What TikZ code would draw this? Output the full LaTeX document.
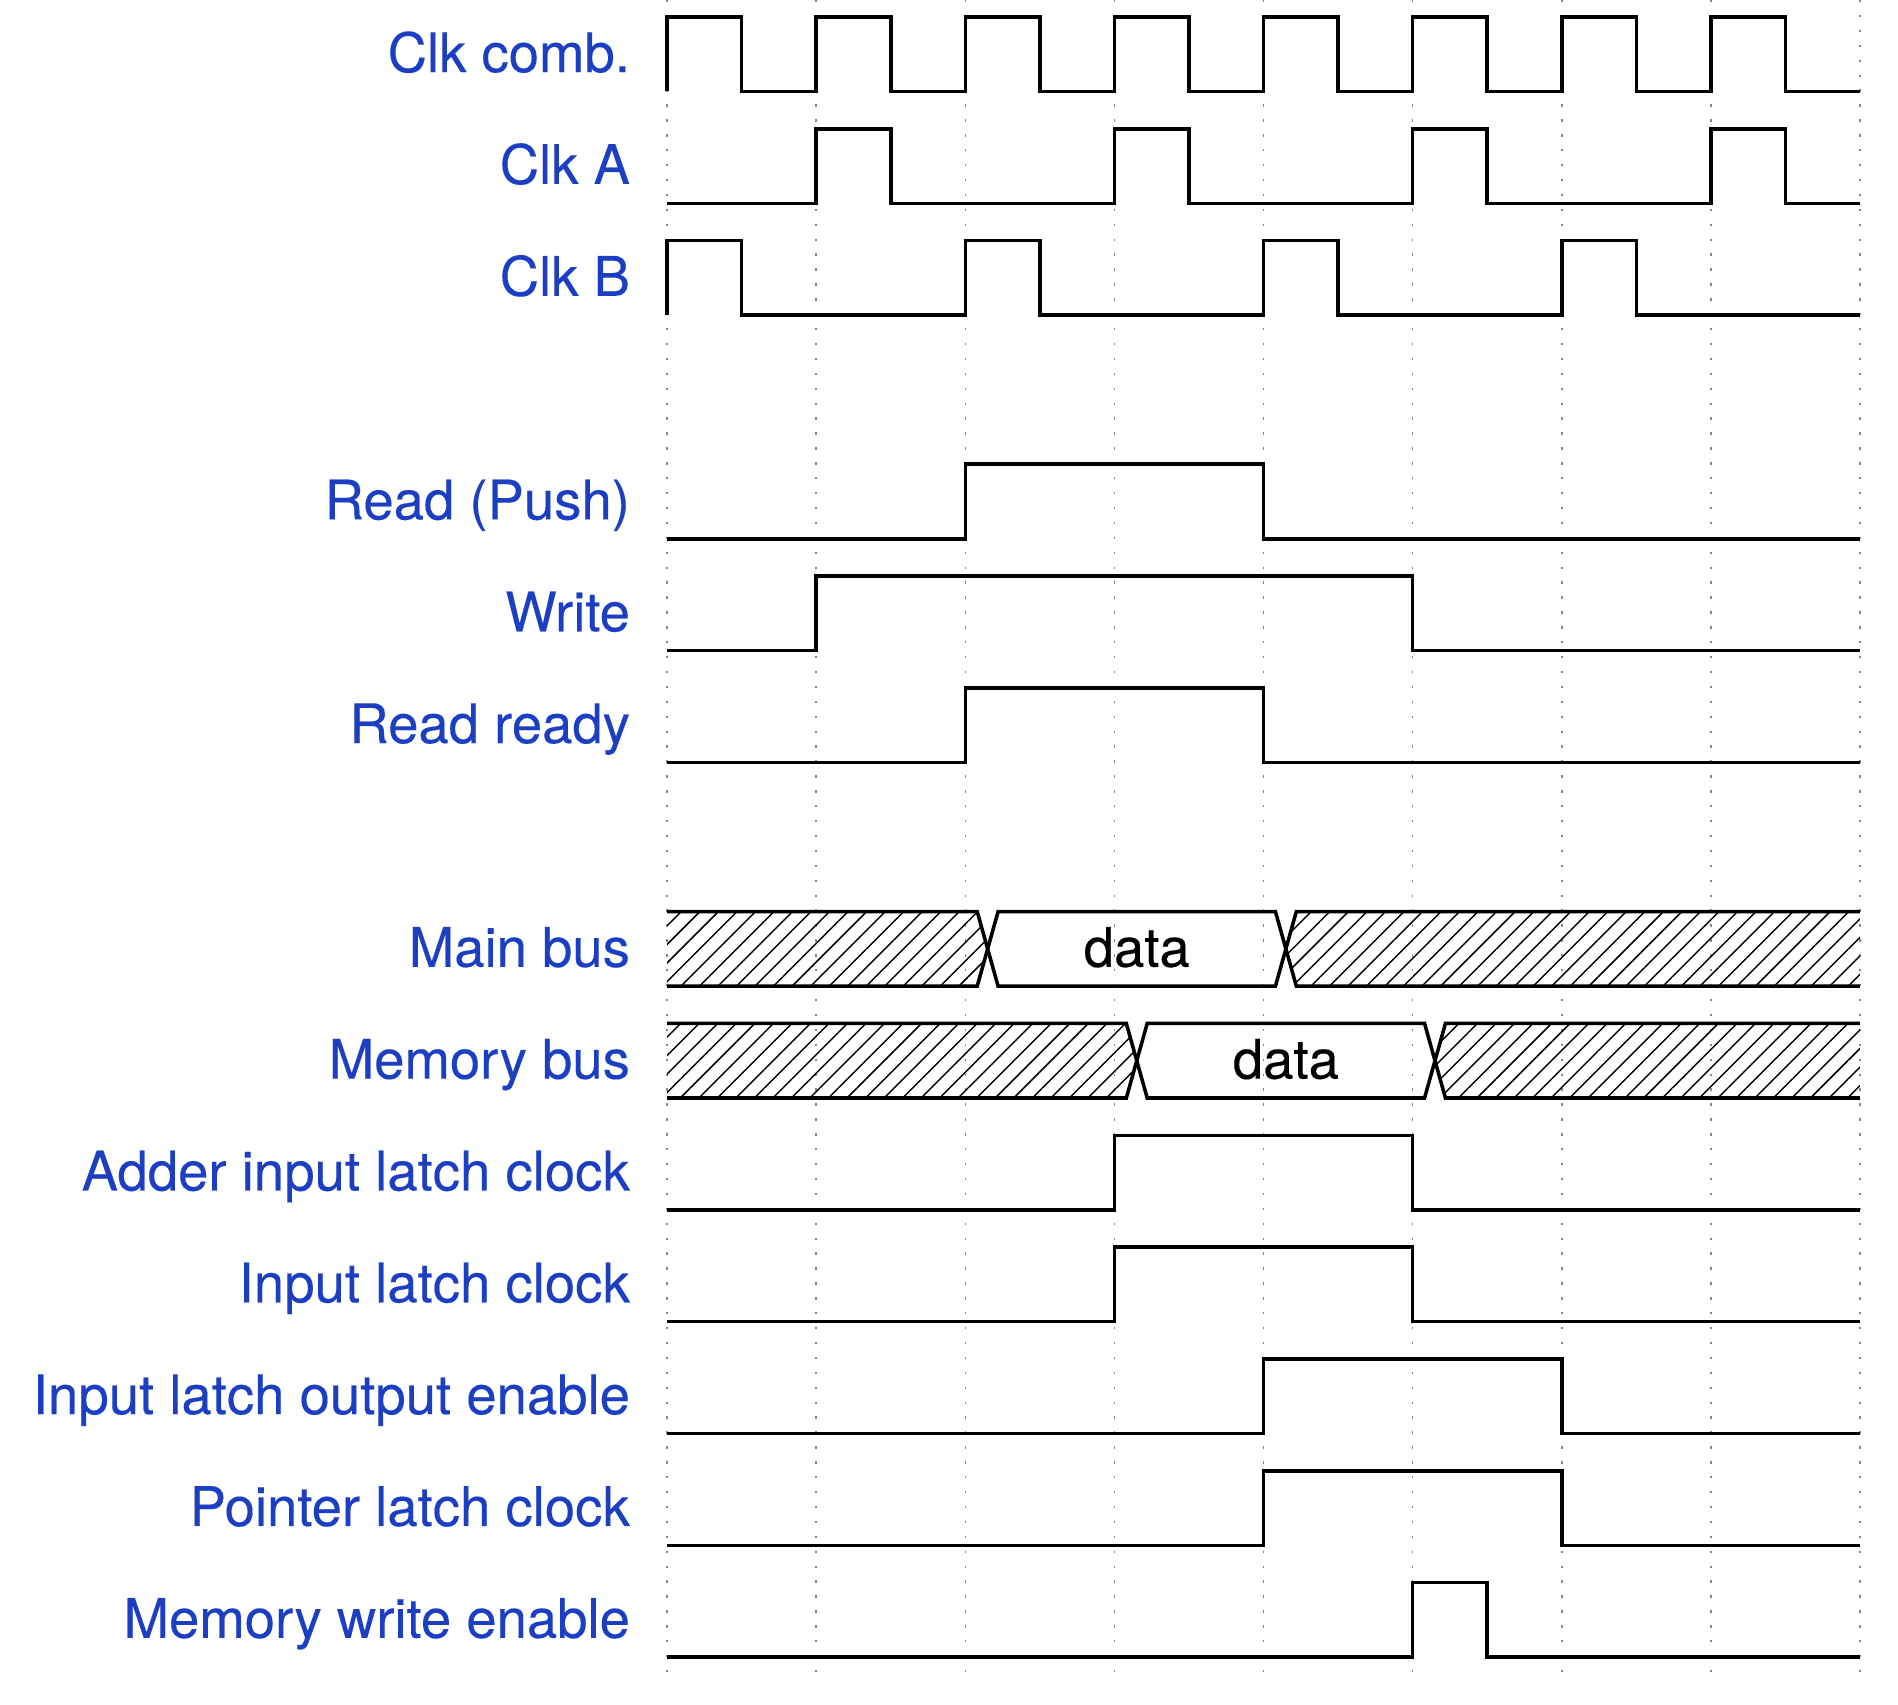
\documentclass[tikz,border=0pt]{standalone}
\usepackage{fontspec}
\setmainfont{TeX Gyre Heros}
\newfontfamily\lblfont{TeX Gyre Heros}[UprightFeatures={FakeBold=0.25}]
\usetikzlibrary{patterns.meta}
\definecolor{LabelClr}{RGB}{27,62,194}
\definecolor{GridClr}{RGB}{135,135,135}

\begin{document}
\begin{tikzpicture}[
  wave/.style={line width=1.35pt,line join=miter},
  gridline/.style={GridClr,line width=0.6pt,dash pattern=on 0.9pt off 4.79pt},
  lbl/.style={anchor=base east,inner sep=0pt,text=LabelClr,font=\lblfont\fontsize{20.8}{24}\selectfont},
  datatxt/.style={anchor=base,inner sep=0pt,font=\lblfont\fontsize{20.8}{24}\selectfont},
  hatch/.style={pattern={Lines[angle=45,distance=5pt,line width=0.55pt]}}
]
\useasboundingbox (-8.947,-22.63) rectangle (16.51,0.227);

% time grid
\foreach \x in {0,2,...,16}
  \draw[gridline] (\x,0.227) -- (\x,-22.2);

% signal names
\foreach \r/\nm/\txt in {0/clkc/Clk comb., 1/clka/Clk A, 2/clkb/Clk B,
    4/rdpush/Read (Push), 5/wr/Write, 6/rdrdy/Read ready,
    8/mbus/Main bus, 9/membus/Memory bus, 10/addlc/Adder input latch clock,
    11/inlc/Input latch clock, 12/inloe/Input latch output enable,
    13/ptrlc/Pointer latch clock, 14/memwe/Memory write enable}
  \node[lbl] (\nm) at (-0.49,-1.5*\r-0.74) {\txt};

% clocks
\draw[wave] (0,-1) \foreach \k in {0,...,7} {
  -- (2*\k,-1) -- (2*\k,0) -- (2*\k+1,0) -- (2*\k+1,-1) } -- (16,-1);
\draw[wave] (0,-2.5) \foreach \k in {0,...,3} {
  -- (4*\k+2,-2.5) -- (4*\k+2,-1.5) -- (4*\k+3,-1.5) -- (4*\k+3,-2.5) } -- (16,-2.5);
\draw[wave] (0,-4) \foreach \k in {0,...,3} {
  -- (4*\k,-4) -- (4*\k,-3) -- (4*\k+1,-3) -- (4*\k+1,-4) } -- (16,-4);

% single pulses: row / rise / fall
\foreach \r/\up/\dn in {4/4/8, 5/2/10, 6/4/8, 10/6/10, 11/6/10,
    12/8/12, 13/8/12, 14/10/11}
  \draw[wave] (0,-1.5*\r-1) -- (\up,-1.5*\r-1) -- (\up,-1.5*\r)
    -- (\dn,-1.5*\r) -- (\dn,-1.5*\r-1) -- (16,-1.5*\r-1);

% buses
\foreach \r/\tA/\tB in {8/4.3/8.3, 9/6.3/10.3} {
  \pgfmathsetmacro\yt{-1.5*\r}
  \pgfmathsetmacro\yb{\yt-1}
  \pgfmathsetmacro\ym{\yt-0.5}
  \fill[hatch] (0,\yt) -- (\tA-0.14,\yt) -- (\tA,\ym) -- (\tA-0.14,\yb) -- (0,\yb) -- cycle;
  \fill[hatch] (16,\yt) -- (\tB+0.14,\yt) -- (\tB,\ym) -- (\tB+0.14,\yb) -- (16,\yb) -- cycle;
  \draw[wave] (0,\yt) -- (\tA-0.14,\yt) -- (\tA+0.14,\yb) -- (\tB-0.14,\yb) -- (\tB+0.14,\yt) -- (16,\yt);
  \draw[wave] (0,\yb) -- (\tA-0.14,\yb) -- (\tA+0.14,\yt) -- (\tB-0.14,\yt) -- (\tB+0.14,\yb) -- (16,\yb);
  \node[datatxt] (data\r) at ({(\tA+\tB)/2},\ym-0.24) {data};
}
\end{tikzpicture}
\end{document}
